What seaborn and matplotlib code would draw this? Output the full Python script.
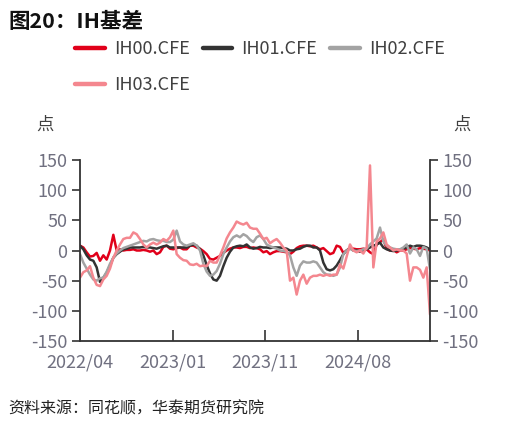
import numpy as np
import pandas as pd
import matplotlib
matplotlib.use("Agg")
import matplotlib.pyplot as plt
from matplotlib.lines import Line2D
import seaborn as sns

# ---- data (one point every ~3.3 px) ----
tick_labels = ["2022/04", "2023/01", "2023/11", "2024/08"]
tick_pos = [0, 28, 55.6, 83.5]
y_ticks = [-150, -100, -50, 0, 50, 100, 150]

ih00 = [8, 5, -3, -10, -9, -4, -17, -8, -15, 0, 26, 0, 2, 0, 1, 1, 2, 0, 0, 1,
        0, -2, 0, -6, -3, 6, 8, 3, 2, 4, 5, 2, 2, 8, 8, 5, 3, -1, -6, -14,
        -15, -12, -9, -4, 0, 3, 5, 5, 4, 6, 6, 4, 5, 4, 2, -3, -1, -6, -3, -1,
        -1, -2, -3, -6, -2, 4, 7, 8, 8, 7, 8, 5, 2, 4, -1, -6, -4, 8, 6, -4,
        0, 4, 3, 2, 2, 3, 2, -3, -6, 10, 14, 18, 3, 0, 1, -3, 0, 0, 2, 4,
        3, 2, 4, 3, 2, 0]
ih01 = [8, 2, -8, -15, -17, -28, -52, -45, -37, -25, -12, -6, -2, 2, 3, 5, 5, 5, 5, 6,
        5, 5, 4, 3, 5, 7, 8, 5, 5, 5, 5, 5, 5, 8, 10, 8, 2, -8, -24, -38,
        -48, -50, -42, -26, -12, -2, 5, 7, 8, 7, 10, 5, 3, 4, 6, 5, 5, 4, 5, 5,
        5, 4, 3, 0, 0, 2, 3, 6, 8, 8, 5, 5, 0, -20, -31, -33, -31, -25, -16, -6,
        0, 4, 0, 0, -2, 0, 2, 5, 8, 10, 13, 5, 2, 0, -1, 0, 1, 3, 5, 8,
        6, 8, 8, 7, 5, 2]
ih02 = [-6, -20, -30, -40, -48, -50, -46, -45, -35, -22, -12, -5, 0, 4, 6, 8, 10, 12, 14, 16,
        15, 18, 19, 17, 16, 16, 14, 14, 18, 33, 15, 10, 8, 10, 12, 8, 0, -22, -35, -42,
        -40, -34, -22, -6, 5, 15, 22, 25, 22, 27, 24, 18, 14, 22, 25, 19, 10, 7, 5, 3,
        0, -1, -2, -8, -28, -42, -25, -18, -20, -20, -18, -20, -28, -36, -40, -40, -42, -40, -28, -6,
        0, 3, 0, -1, 0, 2, 3, 10, 15, 20, 38, 15, 8, 5, 3, 2, 2, 5, 10, -5,
        5, 2, -9, 6, 3, -31]
ih03 = [-45, -36, -33, -26, -45, -57, -59, -48, -42, -30, -12, 0, 10, 19, 21, 21, 30, 27, 19, 10,
        5, 10, 13, 10, 13, 19, 16, 22, 33, -6, -12, -16, -17, -23, -24, -22, -26, -25, -26, -17,
        -20, -20, -8, 5, 20, 30, 38, 48, 45, 43, 46, 38, 36, 36, 28, 19, 21, 12, 16, 19,
        13, 5, 0, -50, -45, -73, -50, -40, -55, -45, -42, -42, -40, -42, -40, -42, -40, -40, -23, -30,
        -10, 10, 0, -3, 0, -5, 5, 141, -28, 15, 20, 30, 10, 5, 0, 2, 0, 0, -5, -50,
        -28, -28, -32, -45, -28, -106]

names = ["IH00.CFE", "IH01.CFE", "IH02.CFE", "IH03.CFE"]
colors = ["#E1001A", "#333333", "#A3A3A3", "#F4878F"]

df = pd.DataFrame({"idx": np.arange(len(ih00)),
                   names[0]: ih00, names[1]: ih01, names[2]: ih02, names[3]: ih03})

sns.set_theme(style="white")
plt.rcParams["font.family"] = ["Noto Sans CJK SC", "DejaVu Sans"]
plt.rcParams["axes.unicode_minus"] = False

fig = plt.figure(figsize=(5.19, 4.26), dpi=100)
ax = fig.add_axes([80 / 519, 1 - 341 / 426, 350 / 519, 181 / 426])

for name, col in zip(names, colors):
    sns.lineplot(data=df, x="idx", y=name, color=col, linewidth=1.8, ax=ax,
                 legend=False)

ax.set_xlim(0, len(ih00) - 1)
ax.set_ylim(-150, 150)
ax.set_yticks(y_ticks)
ax.set_yticklabels([str(v) for v in y_ticks])
ax.set_xticks(tick_pos)
ax.set_xticklabels(tick_labels)
ax.set_xlabel("")
ax.set_ylabel("")

for s in ["left", "right", "bottom"]:
    ax.spines[s].set_visible(True)
    ax.spines[s].set_color("#333333")
    ax.spines[s].set_linewidth(1.3)
ax.spines["top"].set_visible(False)

lab_col = "#707080"
ax.tick_params(axis="y", direction="out", length=6, width=1.2, color="#333333",
               labelcolor=lab_col, labelsize=13, left=True, right=True,
               labelleft=True, labelright=True, pad=3)
ax.tick_params(axis="x", direction="in", length=8, width=1.2, color="#333333",
               labelcolor=lab_col, labelsize=13, bottom=True, pad=9)

# legend (row-major order: IH00, IH01, IH02 / IH03)
order = [0, 3, 1, 2]
handles = [Line2D([], [], color=colors[i], lw=3.2, solid_capstyle="round") for i in order]
labels = [names[i] for i in order]
fig.legend(handles, labels, loc="upper left", bbox_to_anchor=(75 / 519, 1 - 40 / 426),
           ncol=3, frameon=False, fontsize=13, handlelength=1.65,
           handletextpad=0.5, columnspacing=0.72, labelspacing=1.0,
           borderpad=0, borderaxespad=0, labelcolor="#404040")

# title, unit labels, source
fig.text(8 / 519, 1 - 21 / 426, "图20：IH基差", fontsize=15.5, fontweight="bold",
         color="#111111", ha="left", va="center")
fig.text(45 / 519, 1 - 125 / 426, "点", fontsize=12.5, color="#404040",
         ha="center", va="center")
fig.text(462 / 519, 1 - 125 / 426, "点", fontsize=12.5, color="#404040",
         ha="center", va="center")
fig.text(8 / 519, 1 - 409 / 426, "资料来源：同花顺，华泰期货研究院", fontsize=11.5,
         style="italic", color="#222222", ha="left", va="center")

fig.savefig("out.png", dpi=100)
